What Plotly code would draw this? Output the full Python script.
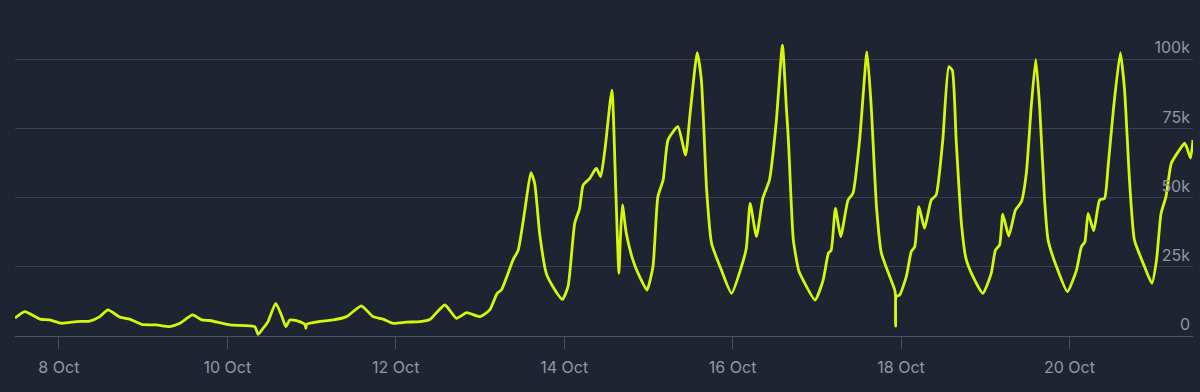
import pandas as pd
import plotly.graph_objects as go

# hours since 8 Oct 00:00, and value in thousands
hours = [
    -12.5, -9.7, -5.4, -2.6, 0.8, 5.0, 8.8, 11.7, 14.0, 17.4, 20.2, 23.6, 27.8, 31.6, 34.5,
    38.1, 40.7, 43.0, 48.7, 55.8, 56.8, 58.2, 59.6, 61.8, 63.4, 64.7, 65.8, 68.2, 70.1, 70.4,
    70.6, 75.3, 78.2, 82.0, 86.2, 89.5, 92.4, 95.2, 99.0, 102.9, 105.7, 106.6, 110.0, 113.3,
    116.2, 120.0, 122.8, 124.9, 126.1, 128.0, 129.4, 130.9, 132.8, 134.5, 135.6, 137.0, 138.9,
    140.8, 143.5, 145.1, 147.0, 148.4, 149.4, 151.3, 152.7, 153.2, 154.4, 155.6, 157.6, 158.7,
    159.6, 160.0, 160.6, 161.7, 163.6, 165.5, 167.6, 169.3, 170.7, 172.2, 173.6, 176.4, 178.6,
    179.8, 181.9, 183.1, 184.6, 186.0, 188.8, 191.7, 194.5, 195.9, 197.0, 198.8, 200.6, 202.5,
    204.4, 206.2, 207.3, 207.9, 209.3, 210.8, 212.1, 215.5, 217.8, 219.3, 220.1, 221.3, 222.8,
    224.9, 226.3, 228.2, 230.3, 231.5, 233.0, 234.4, 238.2, 238.4, 238.45, 238.6, 239.6, 241.5,
    242.9, 243.9, 245.1, 246.7, 248.6, 250.0, 251.9, 253.6, 254.6, 255.7, 257.2, 258.5, 260.5,
    263.3, 265.7, 266.9, 268.1, 269.0, 270.7, 272.6, 274.3, 275.7, 277.1, 278.4, 279.5, 280.9,
    281.9, 284.3, 287.4, 290.0, 291.4, 292.4, 293.3, 294.9, 296.6, 298.0, 299.0, 300.6, 302.5,
    303.7, 305.1, 306.5, 309.4, 311.5, 312.8, 314.1, 315.5, 317.0, 319.3, 320.8, 321.5, 322.5,
    323.2,
]
values_k = [
    6.5, 8.8, 6.1, 5.8, 4.6, 5.2, 5.4, 7.0, 9.4, 6.8, 6.1, 4.2, 4.0, 3.4, 4.6,
    7.6, 5.8, 5.6, 4.0, 3.4, 0.6, 2.8, 5.2, 11.8, 7.6, 3.4, 5.8, 5.4, 4.2, 2.8,
    4.2, 5.4, 5.8, 7.0, 10.9, 7.0, 6.1, 4.6, 5.0, 5.2, 6.0, 7.0, 11.2, 6.4,
    8.4, 7.0, 9.4, 15.4, 16.6, 22.6, 27.4, 31.0, 45.5, 59.0, 55.1, 37.1, 22.6,
    17.8, 13.2, 17.8, 40.7, 46.1, 54.5, 56.9, 59.9, 60.5, 57.5, 67.1, 88.8, 52.7,
    22.6, 34.7, 47.3, 37.1, 27.4, 21.4, 16.6, 25.0, 50.3, 56.3, 70.8, 75.6, 65.3,
    79.2, 102.3, 92.4, 52.7, 33.5, 23.8, 15.4, 25.0, 31.7, 47.9, 35.9, 49.7, 56.3,
    76.8, 105.0, 82.8, 70.8, 34.7, 23.8, 20.2, 13.0, 20.2, 29.9, 31.0, 46.1, 35.9,
    49.1, 51.5, 70.8, 102.6, 82.8, 46.7, 29.9, 16.6, 14.8, 3.6, 14.2, 14.8, 21.4,
    30.4, 32.2, 46.7, 38.9, 49.1, 50.9, 70.8, 97.2, 96.0, 70.8, 40.7, 28.0, 21.4,
    15.4, 22.6, 31.0, 32.9, 44.0, 36.1, 45.5, 48.5, 58.7, 82.8, 99.9, 82.8, 49.1,
    34.7, 25.0, 16.0, 23.8, 32.2, 34.0, 44.3, 38.0, 49.1, 49.7, 61.1, 82.8, 102.3,
    88.8, 56.3, 34.7, 25.0, 19.0, 27.4, 44.3, 50.3, 62.3, 67.1, 69.6, 67.8, 64.2,
    70.8,
]
x_tick_dates = ["2023-10-08", "2023-10-10", "2023-10-12", "2023-10-14",
                "2023-10-16", "2023-10-18", "2023-10-20"]
x_tick_labels = ["8 Oct", "10 Oct", "12 Oct", "14 Oct", "16 Oct", "18 Oct", "20 Oct"]
y_tick_vals = [0, 25000, 50000, 75000, 100000]
y_tick_labels = ["0", "25k", "50k", "75k", "100k"]

base = pd.Timestamp("2023-10-08 00:00")
times = [base + pd.Timedelta(hours=h) for h in hours]
values = [v * 1000 for v in values_k]

BG = "#1e2432"
LINE = "#d4f70c"
GRID = "#394050"
AXIS = "#4a5262"
TXT = "#9298a3"

fig = go.Figure()
fig.add_trace(go.Scatter(
    x=times, y=values, mode="lines",
    line=dict(color=LINE, width=2.8, shape="spline", smoothing=0.5),
    hoverinfo="skip", showlegend=False,
))

fig.update_layout(
    width=1200, height=392,
    paper_bgcolor=BG, plot_bgcolor=BG,
    margin=dict(l=15, r=7, t=20, b=56),
    font=dict(family="Inter, Roboto, sans-serif", size=16, color=TXT),
    xaxis=dict(
        range=[times[0], times[-1]],
        tickvals=[pd.Timestamp(d) for d in x_tick_dates],
        ticktext=x_tick_labels,
        showgrid=False, zeroline=False,
        showline=True, linecolor=AXIS, linewidth=1,
        ticks="outside", ticklen=12, tickcolor=AXIS, tickwidth=1,
        ticklabelstandoff=5,
        tickfont=dict(size=16, color=TXT),
    ),
    yaxis=dict(
        range=[0, 114080], side="right",
        tickvals=y_tick_vals, ticktext=y_tick_labels,
        ticklabelposition="inside top",
        showgrid=True, gridcolor=GRID, gridwidth=1,
        zeroline=False, showline=False, ticks="",
        tickfont=dict(size=16, color=TXT),
    ),
)

fig.write_html(
    "out.html",
    config={"displayModeBar": False, "staticPlot": True},
    post_script="document.body.style.margin='0';document.body.style.background='" + BG + "';",
)
